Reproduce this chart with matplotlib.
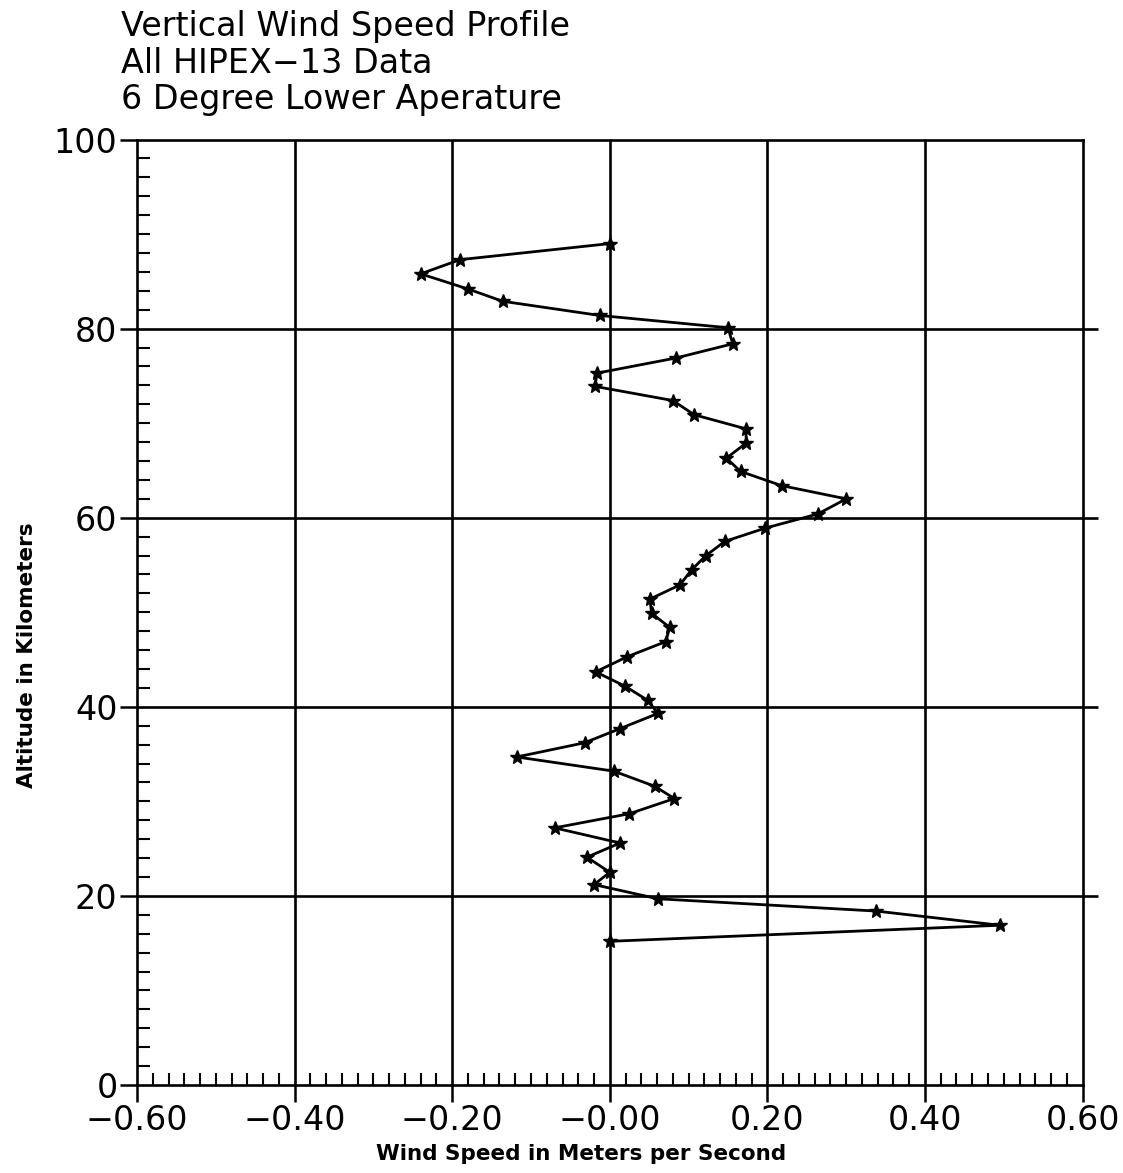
"""
Vertical wind speed profile, HIPEX-13, 6 degree lower aperture.
"""

import matplotlib
matplotlib.use("Agg")
import matplotlib.pyplot as plt
from matplotlib.ticker import MultipleLocator

# wind speed (m/s) and altitude (km), top to bottom
wind_speed = [0.000, -0.190, -0.240, -0.180, -0.136, -0.013, 0.150, 0.156,
              0.084, -0.016, -0.019, 0.080, 0.107, 0.173, 0.173, 0.148,
              0.166, 0.218, 0.300, 0.264, 0.197, 0.146, 0.122, 0.104,
              0.089, 0.051, 0.053, 0.076, 0.071, 0.022, -0.018, 0.019,
              0.048, 0.061, 0.013, -0.032, -0.118, 0.005, 0.057, 0.082,
              0.025, -0.070, 0.013, -0.029, 0.000, -0.020, 0.061, 0.338,
              0.495, 0.000]
altitude = [89.0, 87.3, 85.8, 84.2, 82.9, 81.4, 80.1, 78.4, 76.9, 75.3,
            73.9, 72.4, 70.9, 69.4, 67.9, 66.3, 64.9, 63.4, 62.0, 60.4,
            58.9, 57.5, 56.0, 54.5, 52.9, 51.4, 49.9, 48.4, 46.9, 45.3,
            43.7, 42.2, 40.7, 39.3, 37.7, 36.2, 34.7, 33.2, 31.6, 30.3,
            28.7, 27.2, 25.6, 24.1, 22.5, 21.2, 19.7, 18.4, 16.9, 15.2]

x_ticks = [-0.6, -0.4, -0.2, 0.0, 0.2, 0.4, 0.6]
x_labels = ["\u22120.60", "\u22120.40", "\u22120.20", "\u22120.00",
            "0.20", "0.40", "0.60"]
y_ticks = [0, 20, 40, 60, 80, 100]
title_lines = ["Vertical Wind Speed Profile",
               "All HIPEX\u221213 Data",
               "6 Degree Lower Aperature"]

fig = plt.figure(figsize=(11.23, 11.73), dpi=100)
ax = fig.add_axes([0.122, 0.075, 0.842, 0.806])

ax.set_xlim(-0.6, 0.6)
ax.set_ylim(0, 100)

# grid: vertical lines at each major x tick, horizontal ones run a bit past the frame
for xv in x_ticks[1:-1]:
    ax.axvline(xv, color="black", lw=1.9, zorder=1)
ax.hlines(y_ticks[1:-1], -0.6, 0.62, colors="black", lw=1.9,
          clip_on=False, zorder=1)

ax.plot(wind_speed, altitude, color="black", lw=2.0, marker="*",
        ms=10, mec="black", mfc="black", zorder=3)

ax.set_xticks(x_ticks)
ax.set_xticklabels(x_labels)
ax.set_yticks(y_ticks)
ax.xaxis.set_minor_locator(MultipleLocator(0.02))
ax.yaxis.set_minor_locator(MultipleLocator(2))
ax.tick_params(which="major", direction="out", length=12, width=1.8,
               labelsize=24, pad=2)
ax.tick_params(which="minor", direction="in", length=9, width=1.5)

for sp in ax.spines.values():
    sp.set_linewidth(1.9)

ax.set_xlabel("Wind Speed in Meters per Second", fontsize=15.5,
              fontweight="bold", labelpad=5)
ax.set_ylabel("Altitude in Kilometers", fontsize=15.5, fontweight="bold",
              labelpad=12)
# the original labels sit a little off-centre
ax.xaxis.label.set_x(0.47)
ax.yaxis.label.set_y(0.455)

for i, line in enumerate(title_lines):
    fig.text(0.108, 0.977 - i * 0.031, line, fontsize=24, va="center",
             ha="left")

fig.savefig("out.png", dpi=100)
